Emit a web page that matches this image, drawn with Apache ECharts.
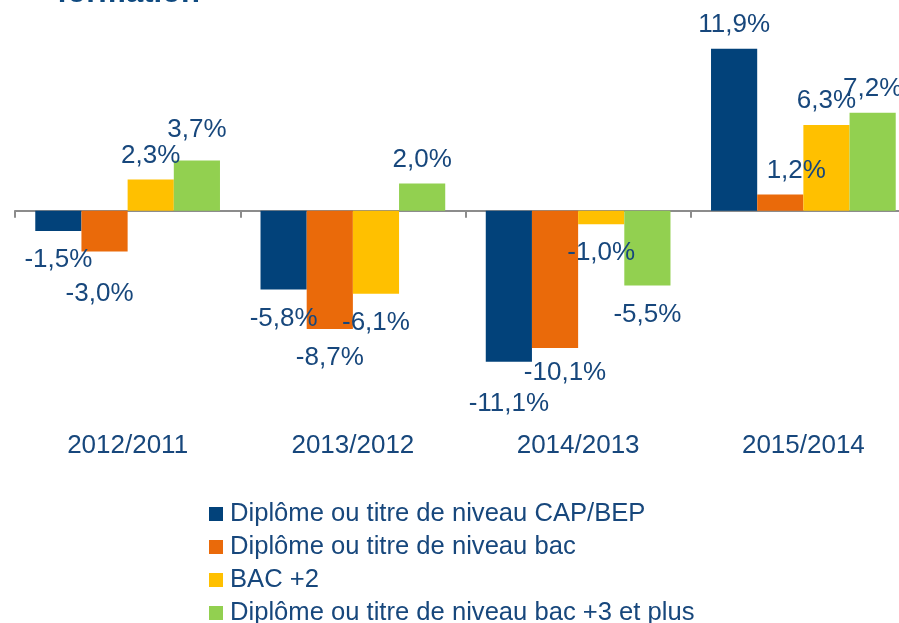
<!DOCTYPE html>
<html>
<head>
<meta charset="utf-8">
<script src="https://cdn.jsdelivr.net/npm/echarts@6/dist/echarts.min.js"></script>
<style>
  html, body { margin: 0; padding: 0; background: #fff; }
  #chart { width: 899px; height: 623px; }
</style>
</head>
<body>
<div id="chart"></div>
<script>
// periods compared
const categories = ['2012/2011', '2013/2012', '2014/2013', '2015/2014'];

// variation in % per level of diploma
const seriesNames = [
  'Diplôme ou titre de niveau CAP/BEP',
  'Diplôme ou titre de niveau bac',
  'BAC +2',
  'Diplôme ou titre de niveau bac +3 et plus'
];
const capBep = [-1.5, -5.8, -11.1, 11.9];
const bac = [-3.0, -8.7, -10.1, 1.2];
const bac2 = [2.3, -6.1, -1.0, 6.3];
const bac3Plus = [3.7, 2.0, -5.5, 7.2];

// hand-placed label nudges from the original, [dx, dy] per category
const labelShift = [
  [[0, 0], [0, 0], [0, 13], [0, 0]],
  [[-5, 13], [0, 0], [10, -4], [16, 0]],
  [[0, 0], [0, 0], [0, 0], [0, 0]],
  [[0, -7], [0, 0], [0, 0], [0, 0]]
];

const colors = ['#02427a', '#ea6a0a', '#ffc000', '#92d050'];
const textColor = '#17477c';
const font = 'Liberation Sans, Arial, sans-serif';

const fmt = v => v.toFixed(1).replace('.', ',') + '%';

function makeSeries(idx, values) {
  return {
    name: seriesNames[idx],
    type: 'bar',
    barGap: '0%',
    barCategoryGap: '18%',
    itemStyle: { color: colors[idx] },
    data: values.map((v, i) => ({
      value: v,
      label: {
        position: v < 0 ? 'bottom' : 'top',
        distance: v < 0 ? 16 : 11,
        offset: labelShift[idx][i]
      }
    })),
    label: {
      show: true,
      color: textColor,
      fontFamily: font,
      fontSize: 26,
      formatter: p => fmt(p.value)
    }
  };
}

const chart = echarts.init(document.getElementById('chart'));
chart.setOption({
  animation: false,
  backgroundColor: '#fff',
  title: {
    text: 'formation',
    left: 52,
    top: -27,
    textStyle: { color: '#0f4a80', fontFamily: font, fontSize: 31, fontWeight: 'bold' }
  },
  legend: {
    orient: 'vertical',
    left: 204,
    top: 496,
    height: 160,
    itemWidth: 14,
    itemHeight: 14,
    itemGap: 7,
    icon: 'rect',
    textStyle: { color: textColor, fontFamily: font, fontSize: 25.6, lineHeight: 25, padding: [0, 0, 0, 2] },
    data: seriesNames
  },
  grid: { left: 15, width: 901, top: 47.5, height: 326.4, containLabel: false, outerBoundsMode: 'none' },
  xAxis: [
    {
      type: 'category',
      data: categories,
      axisLine: { onZero: true, lineStyle: { color: '#8c8c8c', width: 2 } },
      axisTick: { show: true, length: 7, lineStyle: { color: '#8c8c8c', width: 2 } },
      axisLabel: { show: false }
    },
    {
      type: 'category',
      data: categories,
      position: 'bottom',
      axisLine: { show: false, onZero: false },
      axisTick: { show: false },
      axisLabel: { color: textColor, fontFamily: font, fontSize: 26, margin: 59 }
    }
  ],
  yAxis: {
    type: 'value',
    min: -12,
    max: 12,
    show: false,
    splitLine: { show: false }
  },
  series: [
    makeSeries(0, capBep),
    makeSeries(1, bac),
    makeSeries(2, bac2),
    makeSeries(3, bac3Plus)
  ]
});
</script>
</body>
</html>
